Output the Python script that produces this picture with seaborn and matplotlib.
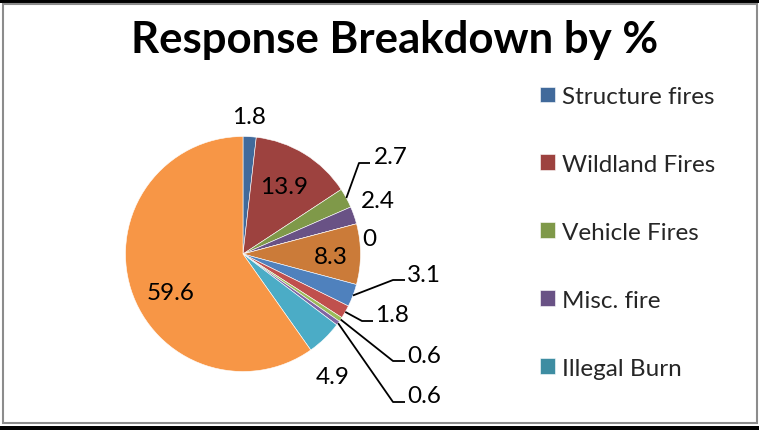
import matplotlib
matplotlib.use("Agg")
import numpy as np
import matplotlib.pyplot as plt
from matplotlib.patches import Rectangle
import seaborn as sns

# ---- data -------------------------------------------------------------
title = "Response Breakdown by %"
legend_labels = ["Structure fires", "Wildland Fires", "Vehicle Fires",
                 "Misc. fire", "Illegal Burn"]
values = [1.8, 13.9, 2.7, 2.4, 0, 8.3, 3.1, 1.8, 0.6, 0.6, 4.9, 59.6]

# ---- style ------------------------------------------------------------
sns.set_theme(style="white")
plt.rcParams["font.family"] = ["Lato", "DejaVu Sans"]

base = ["#4F81BD", "#C0504D", "#9BBB59", "#8064A2", "#4BACC6", "#F79646"]
dark = [tuple(c * 0.82 for c in rgb) for rgb in sns.color_palette(base)]
colors = dark + list(sns.color_palette(base))

W, H = 759, 431
CX, CY, R = 243, H - 255, 117.5
FS = 17.5

# label centres (pixels from top-left) and leader-line elbows
label_xy = [(249, 118), (284, 188), (391, 158), (378, 201), (369, 240),
            (331, 258), (424, 275), (392, 315), (424, 357), (424, 397),
            (333, 378), (171, 293)]
leaders = {2: ((359, 164), (370, 164)),
           6: ((393, 281), (405, 281)),
           7: ((362, 322), (373, 322)),
           8: ((393, 362), (405, 362)),
           9: ((393, 403), (405, 403))}

fig = plt.figure(figsize=(W / 100, H / 100), dpi=100)
ax = fig.add_axes([0, 0, 1, 1])

wedges, _ = ax.pie(values, colors=colors, startangle=90, counterclock=False,
                   center=(CX, CY), radius=R,
                   wedgeprops=dict(linewidth=0.4, edgecolor="white"))
ax.set_xlim(0, W)
ax.set_ylim(0, H)
ax.set_aspect("equal")
ax.axis("off")

total = float(np.sum(values))
cum = np.cumsum([0] + values[:-1])
for i, v in enumerate(values):
    lx, ly = label_xy[i]
    ax.text(lx, H - ly, f"{v:g}", ha="center", va="center", fontsize=FS,
            color="black")
    if i in leaders:
        theta = np.deg2rad(360 * (cum[i] + v / 2) / total)
        sx, sy = CX + R * np.sin(theta), CY + R * np.cos(theta)
        (ex, ey), (hx, hy) = leaders[i]
        ax.plot([sx, ex, hx], [sy, H - ey, H - hy], color="black", lw=1.3,
                solid_capstyle="butt")

fig.text(395 / W, 1 - 53 / H, title, ha="center", va="baseline",
         fontsize=31.5, fontweight="bold", color="black")

fig.legend(wedges[:5], legend_labels, loc="upper left",
           bbox_to_anchor=(540 / W, 1 - 87 / H), frameon=False,
           fontsize=FS, handlelength=0.62, handleheight=0.62,
           handletextpad=0.28, labelspacing=1.93, borderpad=0,
           borderaxespad=0)

# outer frame
def px_rect(x0, y0, x1, y1, **kw):
    return Rectangle((x0 / W, 1 - y1 / H), (x1 - x0) / W, (y1 - y0) / H,
                     transform=fig.transFigure, **kw)

fig.patches.append(px_rect(0, 0, W, 4, facecolor="black", edgecolor="none"))
fig.patches.append(px_rect(0, 427, W, H, facecolor="black", edgecolor="none"))
fig.patches.append(px_rect(3, 5, 757, 424, facecolor="none",
                           edgecolor="#8c8c8c", linewidth=1.5))

fig.savefig("out.png", dpi=100, facecolor="white")
